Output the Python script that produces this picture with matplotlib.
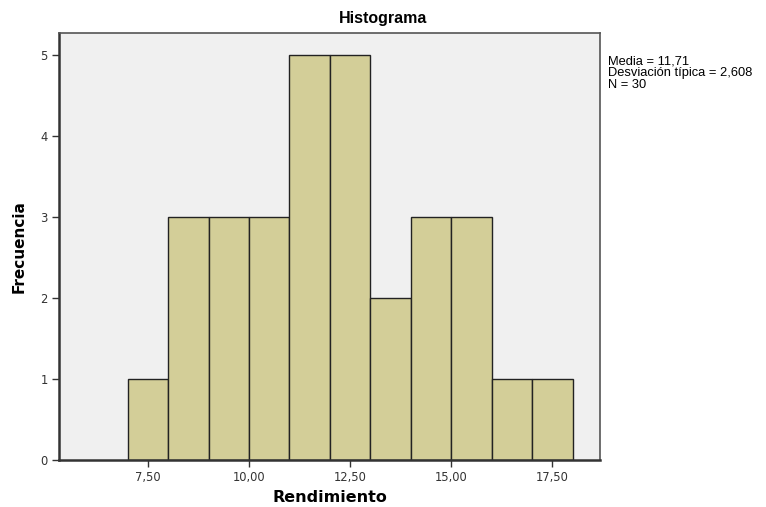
import numpy as np
import matplotlib
matplotlib.use('Agg')
import matplotlib.pyplot as plt

bin_edges = [7, 8, 9, 10, 11, 12, 13, 14, 15, 16, 17, 18]
counts = [1, 3, 3, 3, 5, 5, 2, 3, 3, 1, 1]
xticks = [7.5, 10.0, 12.5, 15.0, 17.5]
xtick_labels = ['7,50', '10,00', '12,50', '15,00', '17,50']
yticks = [0, 1, 2, 3, 4, 5]
stats_text = 'Media = 11,71\nDesviación típica = 2,608\nN = 30'

fig = plt.figure(figsize=(7.66, 5.07), dpi=100)
ax = fig.add_axes([59/766, 47/507, 541/766, 427/507])
ax.set_facecolor('#f0f0f0')

lefts = np.array(bin_edges[:-1])
widths = np.diff(bin_edges)
ax.bar(lefts, counts, width=widths, align='edge', color='#d3ce98',
       edgecolor='#222222', linewidth=1.0, zorder=2)

ax.set_xlim(5.30, 18.68)
ax.set_ylim(0, 5.27)
ax.set_xticks(xticks)
ax.set_xticklabels(xtick_labels)
ax.set_yticks(yticks)
ax.tick_params(axis='both', direction='out', length=5, width=1,
               labelsize=8.3, colors='#333333', pad=3)
for s in ax.spines.values():
    s.set_color('#555555')
    s.set_linewidth(1.2)
ax.spines['left'].set_linewidth(1.8)
ax.spines['bottom'].set_linewidth(1.8)
ax.spines['left'].set_color('#333333')
ax.spines['bottom'].set_color('#333333')

ax.set_xlabel('Rendimiento', fontsize=11.5, fontweight='bold', labelpad=4)
ax.set_ylabel('Frecuencia', fontsize=11, fontweight='bold', labelpad=10)
fig.text(0.5, 1 - 18/507, 'Histograma', ha='center', va='center',
         fontsize=11.5, fontweight='bold', family='Liberation Sans')
fig.text(608/766, 1 - 55/507, stats_text, ha='left', va='top',
         fontsize=9.3, family='Liberation Sans', linespacing=1.0)

fig.savefig('out.png', dpi=100)
